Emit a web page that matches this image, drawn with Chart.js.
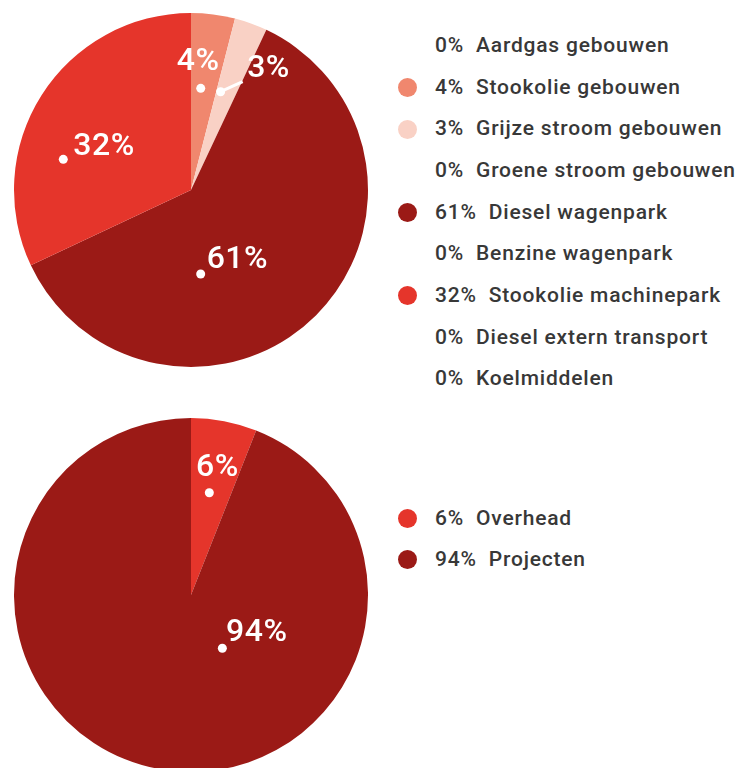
<!DOCTYPE html>
<html>
<head>
<meta charset="utf-8">
<script src="https://cdn.jsdelivr.net/npm/chart.js@4.4.1/dist/chart.umd.min.js"></script>
<style>
  body { margin: 0; width: 738px; height: 768px; overflow: hidden; background: #fff; position: relative; font-family: Roboto, sans-serif; }
  canvas.pie { position: absolute; left: 0; }
  #pieTop { top: 0; }
  #pieBottom { top: 405px; }
  .legend { position: absolute; left: 390px; width: 348px; }
  #legendTop { top: 25px; }
  #legendBottom { top: 498px; }
  .legend .row { position: relative; height: 41.67px; line-height: 41.67px; padding-left: 45px; white-space: pre; color: #383838; font-size: 21px; font-weight: 500; letter-spacing: 0.8px; }
  #legendBottom .row { height: 41px; line-height: 41px; }
  .legend .dot { position: absolute; left: 8px; top: 50%; width: 19px; height: 19px; margin-top: -9.5px; border-radius: 50%; }
</style>
</head>
<body>
<canvas id="pieTop" class="pie" width="382" height="380"></canvas>
<canvas id="pieBottom" class="pie" width="382" height="380"></canvas>
<div id="legendTop" class="legend"></div>
<div id="legendBottom" class="legend"></div>
<script>
// Data
const sourceLabels = ["Aardgas gebouwen", "Stookolie gebouwen", "Grijze stroom gebouwen", "Groene stroom gebouwen",
  "Diesel wagenpark", "Benzine wagenpark", "Stookolie machinepark", "Diesel extern transport", "Koelmiddelen"];
const sourceValues = [0, 4, 3, 0, 61, 0, 32, 0, 0];
const sourceColors = ["#f5a48c", "#f0876e", "#f9d1c5", "#c9d9a0", "#9b1a16", "#c0392b", "#e5352b", "#7a1410", "#dddddd"];

const unitLabels = ["Overhead", "Projecten"];
const unitValues = [6, 94];
const unitColors = ["#e5352b", "#9b1a16"];

// White dot + percentage on the slices
const sliceLabels = {
  id: 'sliceLabels',
  afterDatasetsDraw(chart, args, opts) {
    const ctx = chart.ctx;
    const meta = chart.getDatasetMeta(0);
    const values = chart.data.datasets[0].data;
    ctx.save();
    ctx.fillStyle = '#fff';
    ctx.strokeStyle = '#fff';
    ctx.lineWidth = 3;
    ctx.font = '500 32px Roboto';
    ctx.letterSpacing = '0.5px';
    ctx.textBaseline = 'alphabetic';
    ctx.textAlign = 'left';
    opts.spots.forEach(s => {
      const arc = meta.data[s.index];
      const p = arc.getProps(['x', 'y', 'startAngle', 'endAngle', 'outerRadius'], true);
      const a = p.startAngle + s.at * (p.endAngle - p.startAngle);
      const x = p.x + Math.cos(a) * p.outerRadius * s.r;
      const y = p.y + Math.sin(a) * p.outerRadius * s.r;
      ctx.beginPath();
      ctx.arc(x, y, 4.5, 0, Math.PI * 2);
      ctx.fill();
      if (s.leader) {
        ctx.beginPath();
        ctx.moveTo(x, y);
        ctx.lineTo(x + s.leader[0], y + s.leader[1]);
        ctx.stroke();
      }
      ctx.fillText(values[s.index] + '%', x + s.dx, y + s.dy);
    });
    ctx.restore();
  }
};

function makePie(id, labels, values, colors, spots) {
  new Chart(document.getElementById(id), {
    type: 'pie',
    data: {
      labels: labels,
      datasets: [{ data: values, backgroundColor: colors, borderWidth: 0 }]
    },
    options: {
      responsive: false,
      animation: false,
      layout: { padding: { left: 14, right: 14, top: 13, bottom: 13 } },
      plugins: {
        legend: { display: false },
        tooltip: { enabled: false },
        sliceLabels: { spots: spots }
      }
    },
    plugins: [sliceLabels]
  });
}

function makeLegend(id, labels, values, colors) {
  const box = document.getElementById(id);
  labels.forEach((name, i) => {
    const row = document.createElement('div');
    row.className = 'row';
    row.textContent = values[i] + '%  ' + name;
    if (values[i] > 0) {
      const dot = document.createElement('span');
      dot.className = 'dot';
      dot.style.background = colors[i];
      row.appendChild(dot);
    }
    box.appendChild(row);
  });
}

makePie('pieTop', sourceLabels, sourceValues, sourceColors, [
  { index: 1, at: 0.38, r: 0.577, dx: -24, dy: -18 },
  { index: 2, at: 0.22, r: 0.58, dx: 26.5, dy: -15, leader: [22, -10] },
  { index: 4, at: 0.675, r: 0.478, dx: 6, dy: -6.3 },
  { index: 6, at: 0.336, r: 0.742, dx: 10, dy: -4.3 }
]);
makePie('pieBottom', unitLabels, unitValues, unitColors, [
  { index: 0, at: 0.47, r: 0.587, dx: -13.3, dy: -16.7 },
  { index: 1, at: 0.378, r: 0.349, dx: 3.7, dy: -7.6 }
]);

makeLegend('legendTop', sourceLabels, sourceValues, sourceColors);
makeLegend('legendBottom', unitLabels, unitValues, unitColors);
</script>
</body>
</html>
